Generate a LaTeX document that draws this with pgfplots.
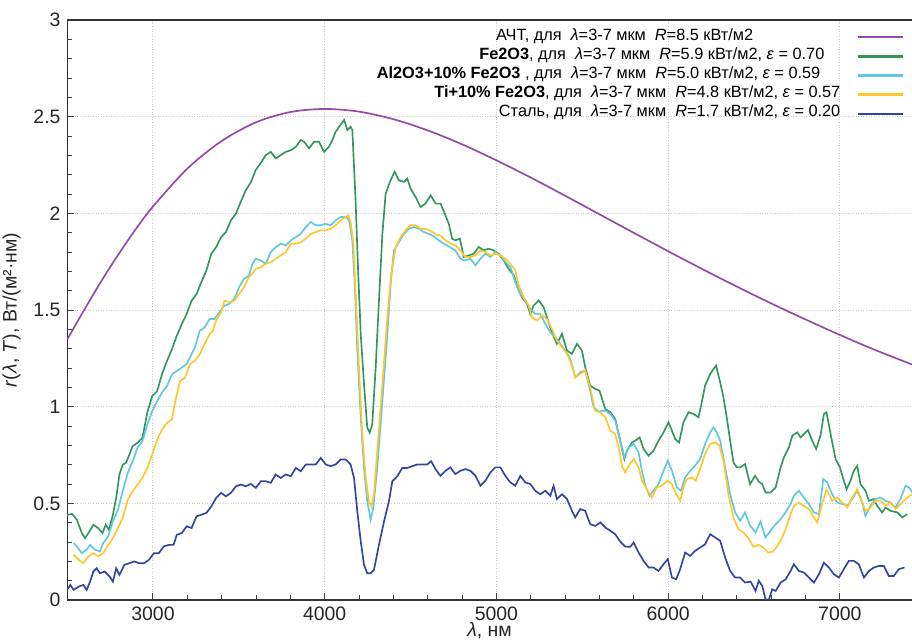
\documentclass[border=0pt]{standalone}
\usepackage{fontspec}
\setmainfont{Liberation Sans}
\usepackage{pgfplots}
\pgfplotsset{compat=1.18}

\definecolor{cBB}{RGB}{148,72,168}
\definecolor{cFe}{RGB}{52,150,95}
\definecolor{cAl}{RGB}{95,200,220}
\definecolor{cTi}{RGB}{255,198,45}
\definecolor{cSt}{RGB}{52,68,160}

\begin{document}
\begin{tikzpicture}
\begin{axis}[
    scale only axis,
    width=456pt, height=313pt,
    xmin=2500, xmax=7420,
    ymin=0, ymax=3,
    xtick={3000,4000,5000,6000,7000},
    ytick={0,0.5,1,1.5,2,2.5,3},
    minor x tick num=4,
    minor y tick num=4,
    axis x line=box,
    axis y line*=left,
    axis line style={-, draw=black!80, line width=0.6pt},
    xtick pos=left,
    tick style={black!75, line width=0.5pt},
    major tick length=4pt,
    minor tick length=2.5pt,
    grid=major,
    major grid style={densely dotted, gray!40, line width=0.5pt},
    tick label style={font=\fontsize{10.5}{12}\selectfont, text=black!85},
    /pgf/number format/assume math mode=true,
    /pgf/number format/1000 sep={},
    xlabel={\textit{λ}, нм},
    xlabel style={yshift=5.5pt},
    ylabel={\textit{r}(\textit{λ}, \textit{T}), Вт/(м²·нм)},
    label style={font=\fontsize{10.5}{12}\selectfont, text=black!85},
    legend cell align=right,
    legend plot pos=right,
    legend image code/.code={\draw[#1, line width=1.2pt] (0pt,0pt) -- (24pt,0pt);},
    legend style={draw=none, fill=none, at={(1,1)}, anchor=north east,
        xshift=-4.3pt, yshift=-4pt, inner sep=0pt,
        font=\fontsize{8.8}{10}\selectfont, column sep=9pt, row sep=0pt,
        nodes={inner sep=0pt, text height=6.8pt, text depth=3.5pt}},
    every axis plot/.append style={line width=0.9pt},
]

\addplot[cBB, smooth] table {
x y
2500 1.346
2600 1.501
2700 1.650
2800 1.789
2900 1.918
3000 2.035
3200 2.231
3400 2.374
3600 2.471
3800 2.524
4000 2.540
4200 2.526
4400 2.487
4600 2.429
4800 2.357
5000 2.274
5200 2.185
5400 2.091
5600 1.995
5800 1.899
6000 1.804
6200 1.711
6400 1.621
6600 1.534
6800 1.451
7000 1.371
7200 1.295
7420 1.218
};
\addlegendentry{АЧТ, для\ \ \textit{λ}=3-7 мкм\ \ \textit{R}=8.5 кВт/м2\hspace*{47pt}}

\addplot[cFe] table {
x y
2500 0.441
2530 0.445
2557 0.415
2586 0.346
2605 0.320
2624 0.346
2653 0.389
2681 0.372
2706 0.346
2725 0.389
2744 0.363
2767 0.441
2786 0.528
2805 0.649
2824 0.700
2843 0.709
2863 0.753
2882 0.796
2910 0.813
2939 0.839
2967 0.969
2996 1.055
3025 1.081
3053 1.168
3082 1.237
3111 1.298
3139 1.367
3168 1.427
3196 1.479
3225 1.548
3254 1.583
3282 1.644
3311 1.704
3340 1.791
3368 1.825
3397 1.877
3425 1.903
3454 1.964
3483 1.998
3511 2.059
3540 2.119
3570 2.160
3599 2.225
3628 2.260
3657 2.301
3686 2.318
3715 2.284
3744 2.301
3773 2.318
3803 2.327
3832 2.344
3861 2.379
3880 2.370
3909 2.336
3938 2.370
3967 2.370
3996 2.318
4025 2.344
4045 2.379
4064 2.422
4084 2.448
4113 2.483
4132 2.431
4151 2.448
4161 2.431
4180 2.067
4194 1.720
4210 1.375
4229 1.116
4248 0.891
4262 0.865
4277 0.908
4297 1.202
4316 1.548
4336 1.894
4355 2.102
4380 2.163
4407 2.215
4432 2.171
4462 2.163
4481 2.180
4500 2.128
4529 2.085
4558 2.033
4587 2.050
4617 2.093
4646 2.050
4675 2.050
4703 1.990
4723 1.946
4742 1.869
4761 1.860
4787 1.869
4810 1.774
4839 1.782
4868 1.791
4897 1.826
4926 1.808
4955 1.817
4984 1.808
5013 1.791
5042 1.756
5071 1.713
5101 1.679
5130 1.601
5149 1.566
5178 1.532
5197 1.480
5217 1.523
5246 1.549
5275 1.515
5294 1.463
5323 1.385
5352 1.325
5382 1.377
5411 1.290
5440 1.273
5469 1.325
5498 1.290
5517 1.204
5546 1.109
5575 1.092
5600 1.083
5634 0.988
5663 0.971
5692 0.936
5712 0.858
5731 0.781
5745 0.729
5760 0.772
5789 0.815
5808 0.824
5834 0.841
5857 0.781
5886 0.746
5915 0.772
5944 0.824
5973 0.867
6002 0.919
6022 0.876
6041 0.832
6064 0.815
6089 0.919
6119 0.971
6148 0.962
6177 0.945
6196 1.023
6215 1.109
6245 1.169
6264 1.195
6279 1.212
6303 1.126
6322 1.048
6341 0.945
6361 0.824
6380 0.712
6400 0.686
6419 0.686
6448 0.703
6477 0.599
6506 0.642
6530 0.610
6548 0.599
6567 0.556
6596 0.556
6626 0.582
6655 0.686
6674 0.737
6703 0.789
6723 0.850
6752 0.867
6771 0.841
6790 0.858
6814 0.879
6839 0.824
6862 0.781
6887 0.850
6907 0.962
6922 0.971
6946 0.858
6975 0.729
7000 0.686
7023 0.617
7039 0.573
7062 0.617
7081 0.668
7101 0.694
7120 0.599
7149 0.565
7169 0.513
7198 0.522
7217 0.487
7246 0.453
7266 0.478
7295 0.461
7334 0.453
7363 0.427
7392 0.444
};
\addlegendentry{\textbf{Fe2O3}, для\ \ \textit{λ}=3-7 мкм\ \ \textit{R}=5.9 кВт/м2, \textit{ε} = 0.70\hspace*{8.6pt}}

\addplot[cAl] table {
x y
2538 0.294
2557 0.277
2586 0.242
2614 0.260
2634 0.285
2662 0.260
2691 0.251
2710 0.294
2739 0.329
2767 0.407
2796 0.467
2824 0.562
2853 0.657
2882 0.718
2910 0.787
2939 0.822
2967 0.908
2996 0.978
3025 1.029
3053 1.073
3082 1.107
3111 1.168
3139 1.185
3168 1.202
3196 1.220
3215 1.254
3244 1.306
3273 1.393
3301 1.410
3330 1.453
3358 1.453
3387 1.488
3416 1.522
3444 1.531
3473 1.557
3502 1.618
3530 1.661
3559 1.678
3580 1.740
3599 1.765
3628 1.756
3657 1.739
3686 1.799
3715 1.825
3744 1.843
3773 1.834
3803 1.860
3832 1.877
3861 1.894
3890 1.929
3919 1.955
3948 1.938
3977 1.938
4006 1.946
4035 1.938
4064 1.964
4093 1.981
4122 1.981
4142 1.964
4161 1.860
4175 1.635
4190 1.289
4210 0.943
4229 0.683
4248 0.510
4268 0.415
4283 0.476
4306 0.683
4336 1.029
4365 1.375
4384 1.635
4403 1.808
4432 1.851
4462 1.894
4491 1.920
4520 1.929
4549 1.920
4578 1.903
4607 1.894
4636 1.880
4665 1.860
4694 1.843
4720 1.830
4761 1.808
4790 1.765
4819 1.756
4849 1.765
4878 1.731
4907 1.765
4936 1.791
4965 1.774
4994 1.800
5023 1.782
5052 1.748
5081 1.722
5110 1.644
5139 1.584
5168 1.549
5197 1.506
5226 1.480
5255 1.480
5285 1.428
5314 1.385
5343 1.359
5372 1.325
5401 1.290
5430 1.247
5459 1.152
5488 1.178
5517 1.187
5546 1.083
5566 0.997
5595 0.975
5634 0.979
5663 0.962
5692 0.927
5721 0.824
5745 0.737
5770 0.789
5799 0.807
5828 0.763
5847 0.668
5867 0.591
5892 0.539
5915 0.565
5944 0.599
5973 0.668
5998 0.720
6022 0.668
6051 0.582
6074 0.565
6099 0.634
6128 0.668
6157 0.694
6186 0.729
6215 0.807
6245 0.867
6264 0.893
6283 0.867
6303 0.824
6332 0.686
6361 0.547
6390 0.453
6419 0.409
6448 0.453
6477 0.385
6509 0.349
6538 0.405
6567 0.323
6596 0.358
6626 0.392
6655 0.418
6684 0.453
6713 0.496
6732 0.539
6761 0.565
6790 0.530
6820 0.496
6849 0.453
6878 0.444
6903 0.625
6926 0.608
6955 0.547
6984 0.504
7014 0.496
7043 0.487
7072 0.522
7101 0.565
7130 0.504
7149 0.435
7178 0.487
7208 0.522
7237 0.530
7266 0.513
7295 0.504
7324 0.478
7353 0.522
7382 0.591
7402 0.582
7423 0.556
};
\addlegendentry{\textbf{Al2O3+10\% Fe2O3} , для\ \ \textit{λ}=3-7 мкм\ \ \textit{R}=5.0 кВт/м2, \textit{ε} = 0.59\hspace*{10.8pt}}

\addplot[cTi] table {
x y
2538 0.234
2567 0.208
2595 0.190
2624 0.225
2653 0.242
2681 0.225
2710 0.242
2739 0.285
2767 0.320
2796 0.372
2824 0.424
2853 0.519
2882 0.562
2910 0.597
2939 0.631
2967 0.683
2996 0.753
3025 0.830
3053 0.882
3082 0.917
3111 0.934
3130 1.029
3158 1.133
3187 1.150
3216 1.220
3244 1.237
3273 1.272
3301 1.323
3330 1.375
3349 1.393
3368 1.445
3397 1.488
3416 1.548
3444 1.540
3473 1.548
3502 1.583
3530 1.618
3559 1.670
3580 1.690
3599 1.713
3628 1.721
3657 1.739
3686 1.747
3715 1.765
3744 1.782
3773 1.799
3803 1.843
3832 1.843
3861 1.851
3890 1.869
3919 1.894
3948 1.903
3977 1.912
4006 1.912
4035 1.920
4064 1.938
4093 1.964
4122 1.981
4138 1.990
4151 1.955
4167 1.843
4182 1.548
4200 1.202
4219 0.856
4239 0.631
4258 0.510
4272 0.484
4287 0.545
4306 0.770
4336 1.116
4365 1.462
4388 1.687
4413 1.825
4442 1.877
4471 1.912
4500 1.938
4529 1.938
4558 1.920
4587 1.920
4617 1.910
4646 1.890
4675 1.885
4704 1.860
4733 1.845
4761 1.834
4790 1.808
4819 1.774
4849 1.774
4878 1.782
4907 1.808
4936 1.800
4965 1.782
4994 1.791
5023 1.782
5052 1.765
5081 1.739
5110 1.705
5130 1.627
5159 1.566
5188 1.523
5207 1.463
5236 1.445
5265 1.471
5294 1.454
5323 1.402
5352 1.342
5382 1.307
5411 1.273
5440 1.212
5459 1.152
5488 1.169
5517 1.187
5546 1.100
5575 0.979
5604 0.970
5634 0.945
5663 0.876
5692 0.858
5712 0.789
5731 0.694
5750 0.660
5770 0.694
5799 0.729
5828 0.686
5847 0.617
5876 0.573
5905 0.530
5934 0.582
5963 0.591
5998 0.617
6022 0.599
6047 0.547
6070 0.513
6089 0.582
6109 0.625
6138 0.634
6161 0.617
6186 0.677
6215 0.755
6245 0.807
6274 0.815
6299 0.798
6322 0.720
6351 0.547
6380 0.427
6409 0.366
6438 0.349
6467 0.320
6496 0.275
6526 0.285
6555 0.270
6584 0.245
6610 0.250
6630 0.271
6655 0.306
6684 0.366
6713 0.444
6732 0.487
6761 0.504
6790 0.487
6820 0.470
6849 0.427
6868 0.401
6891 0.478
6922 0.573
6955 0.513
6984 0.530
7014 0.504
7043 0.478
7072 0.530
7101 0.573
7130 0.504
7149 0.461
7178 0.478
7208 0.513
7237 0.513
7266 0.487
7295 0.504
7324 0.470
7353 0.496
7382 0.522
7407 0.539
7423 0.547
};
\addlegendentry{\textbf{Ti+10\% Fe2O3}, для\ \ \textit{λ}=3-7 мкм\ \ \textit{R}=4.8 кВт/м2, \textit{ε} = 0.57}

\addplot[cSt] table {
x y
2500 0.052
2519 0.078
2538 0.052
2567 0.069
2595 0.078
2614 0.052
2634 0.095
2653 0.147
2672 0.164
2691 0.138
2719 0.147
2748 0.121
2767 0.095
2786 0.164
2805 0.130
2834 0.182
2863 0.190
2891 0.199
2920 0.190
2948 0.190
2977 0.208
3006 0.242
3034 0.242
3063 0.277
3092 0.285
3120 0.285
3139 0.337
3168 0.346
3196 0.381
3225 0.372
3254 0.433
3282 0.441
3311 0.450
3340 0.484
3368 0.528
3397 0.554
3425 0.536
3454 0.554
3483 0.588
3511 0.597
3540 0.588
3570 0.600
3599 0.580
3628 0.614
3657 0.614
3686 0.606
3715 0.649
3744 0.631
3773 0.649
3803 0.640
3832 0.683
3861 0.666
3890 0.701
3919 0.701
3948 0.701
3977 0.735
4006 0.701
4035 0.692
4064 0.701
4093 0.727
4122 0.727
4151 0.701
4171 0.631
4190 0.458
4210 0.303
4229 0.182
4248 0.138
4268 0.138
4287 0.156
4316 0.285
4346 0.407
4374 0.510
4394 0.614
4423 0.640
4452 0.683
4481 0.683
4510 0.692
4539 0.701
4568 0.701
4597 0.701
4620 0.718
4645 0.677
4674 0.642
4703 0.668
4732 0.686
4761 0.651
4790 0.668
4819 0.677
4849 0.668
4878 0.642
4907 0.591
4936 0.617
4965 0.660
4994 0.686
5023 0.686
5052 0.642
5081 0.608
5110 0.591
5139 0.642
5168 0.608
5197 0.600
5226 0.565
5255 0.547
5285 0.565
5314 0.539
5333 0.591
5352 0.522
5382 0.547
5411 0.522
5440 0.461
5459 0.427
5488 0.470
5517 0.461
5546 0.392
5575 0.383
5605 0.401
5634 0.375
5663 0.358
5692 0.340
5721 0.302
5750 0.276
5779 0.275
5799 0.297
5828 0.245
5857 0.202
5886 0.168
5915 0.168
5944 0.150
5973 0.185
5998 0.211
6022 0.116
6047 0.107
6070 0.159
6099 0.245
6128 0.228
6157 0.254
6186 0.271
6215 0.288
6245 0.340
6274 0.323
6303 0.306
6332 0.219
6361 0.150
6390 0.116
6419 0.116
6448 0.090
6480 0.095
6509 0.047
6528 0.099
6548 0.073
6567 0.003
6587 0.003
6606 0.055
6626 0.047
6655 0.090
6684 0.107
6713 0.150
6732 0.185
6761 0.150
6790 0.142
6820 0.116
6849 0.090
6878 0.133
6907 0.193
6936 0.168
6965 0.133
6994 0.116
7023 0.159
7052 0.202
7081 0.202
7110 0.185
7140 0.116
7169 0.150
7198 0.168
7227 0.176
7256 0.176
7285 0.124
7314 0.124
7343 0.159
7376 0.168
};
\addlegendentry{Сталь, для\ \ \textit{λ}=3-7 мкм\ \ \textit{R}=1.7 кВт/м2, \textit{ε} = 0.20}

\end{axis}
\pgfresetboundingbox
\path[use as bounding box] ([xshift=-36.2pt,yshift=-22.7pt]current axis.south west) rectangle ([yshift=10.8pt]current axis.north east);
\end{tikzpicture}
\end{document}
